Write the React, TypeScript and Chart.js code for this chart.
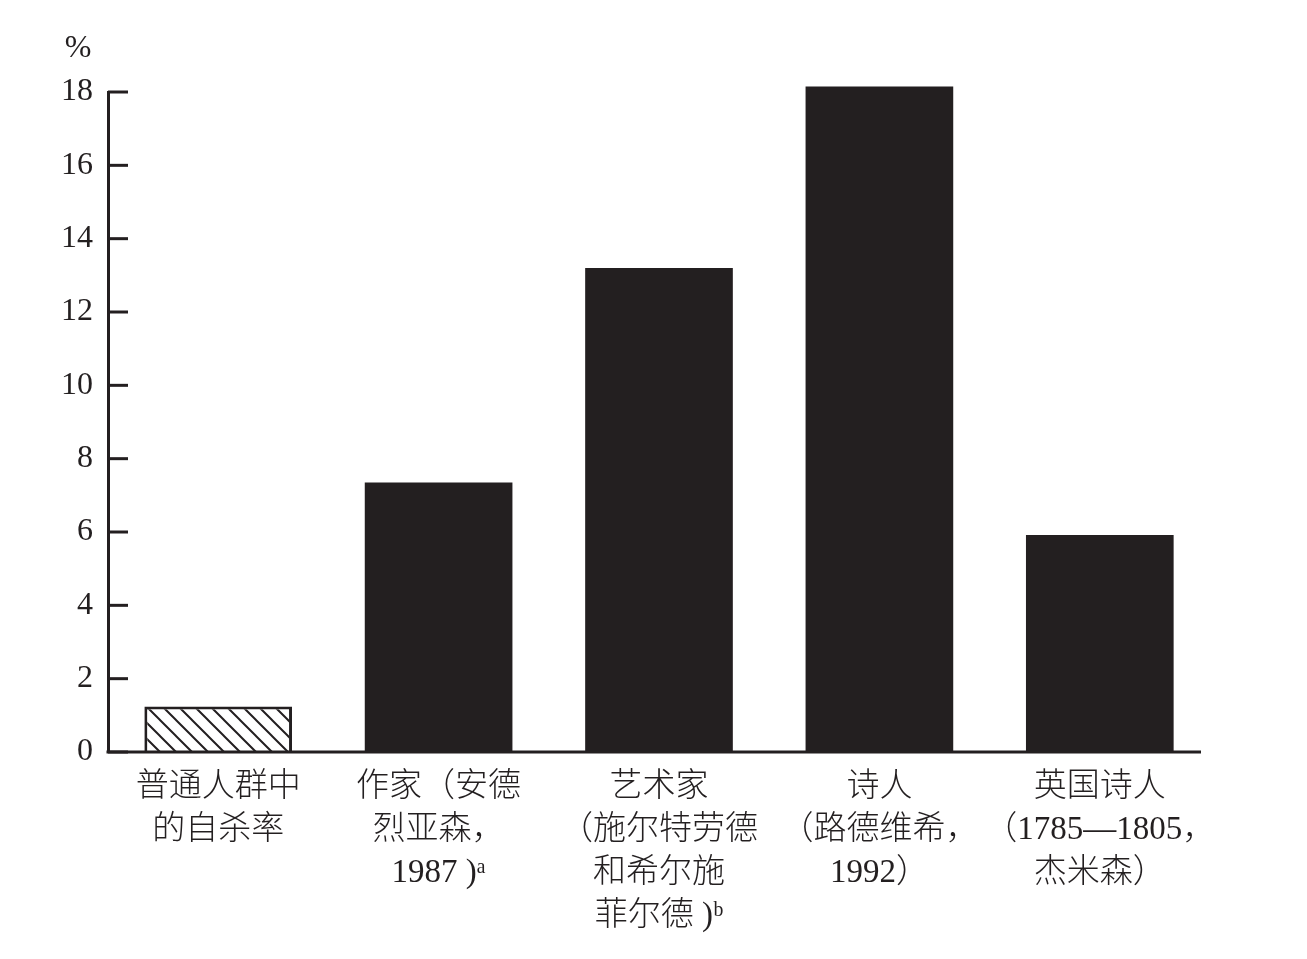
import { useEffect, useRef } from "react";
import { Chart, registerables } from "chart.js";

Chart.register(...registerables);

const categories: string[][] = [
  ["普通人群中", "的自杀率"],
  ["作家（安德", "烈亚森，", "1987 )ᵃ"],
  ["艺术家", "（施尔特劳德", "和希尔施", "菲尔德 )ᵇ"],
  ["诗人", "（路德维希，", "1992）"],
  ["英国诗人", "（1785—1805，", "杰米森）"],
];
const suicideRates = [1.24, 7.35, 13.2, 18.15, 5.92];
const hatchedBars = [true, false, false, false, false];
const yTickValues = [0, 2, 4, 6, 8, 10, 12, 14, 16, 18];
const yUnit = "%";

const INK = "#231f20";
const FONT_FAMILY = "'Liberation Serif', 'Noto Sans CJK SC', serif";

function makeHatch(): CanvasPattern | string {
  const s = 16;
  const c = document.createElement("canvas");
  c.width = s;
  c.height = s;
  const g = c.getContext("2d");
  if (!g) return "#ffffff";
  g.fillStyle = "#ffffff";
  g.fillRect(0, 0, s, s);
  g.strokeStyle = INK;
  g.lineWidth = 2;
  g.beginPath();
  g.moveTo(-1, -1);
  g.lineTo(s + 1, s + 1);
  g.moveTo(s - 2, -2);
  g.lineTo(s + 2, 2);
  g.moveTo(-2, s - 2);
  g.lineTo(2, s + 2);
  g.stroke();
  const p = g.createPattern(c, "repeat");
  return p || "#ffffff";
}

const axisDecor = {
  id: "axisDecor",
  afterDraw(chart: any) {
    const { ctx, chartArea, scales } = chart;
    const y = scales.y;
    ctx.save();
    ctx.strokeStyle = INK;
    ctx.lineWidth = 3;
    for (const v of yTickValues) {
      const py = y.getPixelForValue(v);
      ctx.beginPath();
      ctx.moveTo(chartArea.left, py);
      ctx.lineTo(chartArea.left + 20, py);
      ctx.stroke();
    }
    const by = y.getPixelForValue(0);
    ctx.beginPath();
    ctx.moveTo(chartArea.left - 1.5, by);
    ctx.lineTo(chartArea.right - 9, by);
    ctx.stroke();
    ctx.fillStyle = INK;
    ctx.font = "32px " + FONT_FAMILY;
    ctx.textAlign = "center";
    ctx.textBaseline = "middle";
    ctx.fillText(yUnit, chartArea.left - 30, chartArea.top - 43);
    ctx.restore();
  },
};

export default function App() {
  const ref = useRef<HTMLCanvasElement | null>(null);

  useEffect(() => {
    if (!ref.current) return;
    const hatch = makeHatch();
    const chart = new Chart(ref.current, {
      type: "bar",
      data: {
        labels: categories,
        datasets: [
          {
            data: suicideRates,
            backgroundColor: hatchedBars.map((h) => (h ? hatch : INK)),
            borderColor: INK,
            borderWidth: hatchedBars.map((h) => (h ? 3 : 0)),
            categoryPercentage: 1,
            barPercentage: 0.67,
            clip: false as any,
          },
        ],
      },
      options: {
        animation: false,
        responsive: false,
        maintainAspectRatio: false,
        layout: { padding: { top: 92, right: 97, left: 0, bottom: 0 } },
        plugins: {
          legend: { display: false },
          tooltip: { enabled: false },
        },
        scales: {
          x: {
            grid: { display: false, drawTicks: false },
            border: { display: false },
            afterFit(scale: any) {
              scale.height = 207;
            },
            ticks: {
              autoSkip: false,
              maxRotation: 0,
              minRotation: 0,
              padding: 14,
              color: INK,
              font: { family: FONT_FAMILY, size: 33, weight: "300", lineHeight: 1.3 },
            },
          },
          y: {
            min: 0,
            max: 18,
            afterFit(scale: any) {
              scale.width = 108;
            },
            grid: { display: false, drawTicks: false },
            border: { display: true, color: INK, width: 3 },
            ticks: {
              stepSize: 2,
              padding: 15,
              color: INK,
              font: { family: FONT_FAMILY, size: 32 },
            },
          },
        },
      },
      plugins: [axisDecor],
    });
    return () => chart.destroy();
  }, []);

  return (
    <div style={{ position: "fixed", left: 0, top: 0, width: 1307, height: 959, background: "#fff" }}>
      <canvas ref={ref} width={1307} height={959} style={{ width: 1307, height: 959 }} />
    </div>
  );
}
